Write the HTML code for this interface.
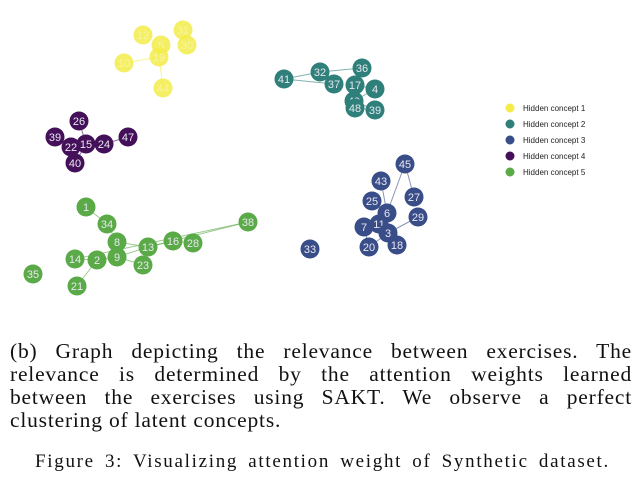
<!DOCTYPE html>
<html><head><meta charset="utf-8">
<style>
body{margin:0;background:#fff;width:644px;height:489px;overflow:hidden;position:relative;font-family:"Liberation Serif",serif}
#cap{position:absolute;left:10px;top:340px;width:622px;font-size:21.5px;line-height:23px;color:#111;letter-spacing:0.8px}
#cap div{text-align:justify;text-align-last:justify;white-space:nowrap}
#cap div.last{text-align-last:left}
#fig{position:absolute;left:35px;width:575px;top:451px;font-size:19px;letter-spacing:1.7px;color:#111;text-align:justify;text-align-last:justify;white-space:nowrap}
</style></head><body>
<svg id="chart" width="644" height="330" style="position:absolute;left:0;top:0"></svg>
<div id="cap">
<div>(b) Graph depicting the relevance between exercises. The</div>
<div>relevance is determined by the attention weights learned</div>
<div>between the exercises using SAKT. We observe a perfect</div>
<div class="last">clustering of latent concepts.</div>
</div>
<div id="fig">Figure 3: Visualizing attention weight of Synthetic dataset.</div>
<script>
const conceptNames=["Hidden concept 1","Hidden concept 2","Hidden concept 3","Hidden concept 4","Hidden concept 5"];
const conceptColors=["#f3ec4a","#2f7f7b","#394d88","#45105a","#5aaa48"];
const nodeLabels=["12","5","19","31","30","10","44","26","39","22","15","24","47","40","41","32","37","36","17","4","49","48","39","45","43","27","25","6","29","11","7","3","18","20","33","1","34","8","13","16","28","38","14","2","9","23","35","21"];
const nodeConcept=[0,0,0,0,0,0,0,3,3,3,3,3,3,3,1,1,1,1,1,1,1,1,1,2,2,2,2,2,2,2,2,2,2,2,2,4,4,4,4,4,4,4,4,4,4,4,4,4];
const nodeX=[143,161,159,183,187,124,163,79,55,71,86,104,128,75,284,320,334,362,355,375,354,355,375,405,381,414,372,387,418,379,364,388,397,369,310,86,107,117,148,173,193,248,75,97,117,143,33,77];
const nodeY=[35,45,57,30,45,63,88,121,137,147,144,144,137,163,79,72,84,68,85,89,101,108,110,164,181,197,201,213,217,224,227,233,245,247,249,207,224,242,247,241,243,222,259,260,257,265,274,286];
const edgeFrom=[1,5,6,7,8,9,10,11,10,14,14,15,17,18,19,20,21,23,23,26,27,28,30,33,31,24,35,36,37,37,38,39,42,43,44,47,42,44,38];
const edgeTo=[2,2,2,10,9,10,11,12,13,15,16,17,18,19,20,22,22,25,27,27,29,31,33,31,32,27,36,37,38,44,39,40,43,44,45,43,41,38,41];
const svg=document.getElementById('chart');
const NS='http://www.w3.org/2000/svg';
function mk(t,a){const e=document.createElementNS(NS,t);for(const k in a)e.setAttribute(k,a[k]);svg.appendChild(e);return e;}
edgeFrom.forEach((f,i)=>{const t=edgeTo[i];
 const l=mk('line',{x1:nodeX[f],y1:nodeY[f],x2:nodeX[t],y2:nodeY[t],stroke:conceptColors[nodeConcept[f]],'stroke-width':1,opacity:0.6});
 
 });
nodeX.forEach((x,i)=>{const c=conceptColors[nodeConcept[i]];
 const g=mk('circle',{cx:x,cy:nodeY[i],r:9.5,fill:c,opacity:nodeConcept[i]===0?0.85:1});
 
 
 const t=mk('text',{x:x,y:nodeY[i]+4,'text-anchor':'middle','font-size':11,'font-family':'Liberation Sans, sans-serif',fill:nodeConcept[i]===0?'#f8f4a0':'#e8e8f0'});
 t.textContent=nodeLabels[i];
 
 });
conceptNames.forEach((n,i)=>{const y=108+i*16;
 const c=mk('circle',{cx:510,cy:y,r:4.5,fill:conceptColors[i]});
 
 
 const t=mk('text',{x:523,y:y+3,'font-size':8,'font-family':'Liberation Sans, sans-serif',fill:'#222'});
 t.textContent=n;
 
 });
</script>
</body></html>
